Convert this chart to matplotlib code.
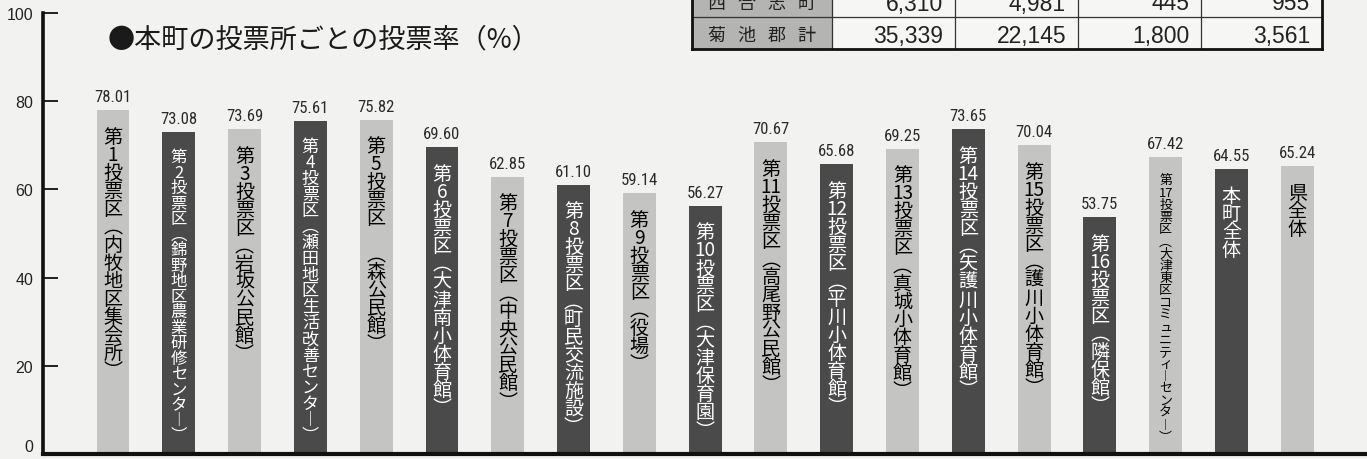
import matplotlib
matplotlib.use('Agg')
import matplotlib.pyplot as plt
from matplotlib.patches import Rectangle

###############################################################################
# data

names = ['第1投票区（内牧地区集会所）',
         '第2投票区（錦野地区農業研修センター）',
         '第3投票区（岩坂公民館）',
         '第4投票区（瀬田地区生活改善センター）',
         '第5投票区　（森公民館）',
         '第6投票区（大津南小体育館）',
         '第7投票区（中央公民館）',
         '第8投票区（町民交流施設）',
         '第9投票区（役場）',
         '第10投票区（大津保育園）',
         '第11投票区（高尾野公民館）',
         '第12投票区（平川小体育館）',
         '第13投票区（真城小体育館）',
         '第14投票区（矢護川小体育館）',
         '第15投票区（護川小体育館）',
         '第16投票区（隣保館）',
         '第17投票区（大津東区コミュニティーセンター）',
         '本町全体',
         '県全体']
rates = [78.01, 73.08, 73.69, 75.61, 75.82, 69.60, 62.85, 61.10, 59.14,
         56.27, 70.67, 65.68, 69.25, 73.65, 70.04, 53.75, 67.42, 64.55, 65.24]

title = '●本町の投票所ごとの投票率（%）'
yticks = [0, 20, 40, 60, 80, 100]

# partial table at the top of the page
table_rows = ['西合志町', '菊池郡計']
table_vals = [[6310, 4981, 445, 955],
              [35339, 22145, 1800, 3561]]

###############################################################################

JP = 'Noto Sans CJK JP'
NUM = ['Roboto Condensed', 'Liberation Sans', 'DejaVu Sans']
LIGHT, DARK = '#c4c4c2', '#4a4a4a'
BG = '#f2f2f0'

# vertical writing forms
VERT = {'（': '︵', '）': '︶', 'ー': '︱'}


def vertical_tokens(s):
    out = []
    for ch in s:
        if ch.isdigit() and out and out[-1].isdigit():
            out[-1] += ch
        else:
            out.append(VERT.get(ch, ch))
    return out


W, H = 1367, 460
fig = plt.figure(figsize=(W / 100, H / 100), dpi=100, facecolor=BG)
ax = fig.add_axes([43 / W, 5 / H, 1322 / W, 441 / H])
ax.set_facecolor('none')

x = list(range(len(rates)))
colors = [LIGHT if i % 2 == 0 else DARK for i in x]
ax.bar(x, rates, width=0.5, color=colors, zorder=2)

ax.set_xlim(-1.064, 19.03)
ax.set_ylim(0, 100)
ax.set_xticks([])
ax.set_yticks(yticks)
ax.tick_params(axis='y', direction='in', length=11, width=1.3, pad=7,
               labelsize=11.5, labelcolor='#222222', color='#111111')
for lab in ax.get_yticklabels():
    lab.set_family(['Liberation Sans', 'DejaVu Sans'])
ax.get_yticklabels()[0].set_verticalalignment('bottom')
for s in ['top', 'right']:
    ax.spines[s].set_visible(False)
ax.spines['left'].set_linewidth(2.6)
ax.spines['bottom'].set_linewidth(3.0)
ax.spines['left'].set_color('#111111')
ax.spines['bottom'].set_color('#111111')

px_per_unit = (ax.transData.transform((0, 100))[1]
               - ax.transData.transform((0, 0))[1]) / 100.0

for i, (name, r) in enumerate(zip(names, rates)):
    # value above the bar
    ax.annotate('%.2f' % r, (i, r), xytext=(0, 6.5),
                textcoords='offset points', ha='center', va='baseline',
                fontsize=12, family=NUM, color='#2a2a2a')
    # vertical label inside the bar, stacked one glyph at a time
    toks = vertical_tokens(name)
    top_gap = 16
    avail = r * px_per_unit - top_gap - 12
    step = min(18.0, avail / len(toks))
    fs = step * 1.06
    tcol = 'black' if i % 2 == 0 else 'white'
    for k, t in enumerate(toks):
        base = top_gap + k * step + 0.82 * fs
        ax.annotate(t, (i, r), xytext=(0, -base * 0.72),
                    textcoords='offset points', ha='center', va='baseline',
                    fontsize=fs * 0.72, family=[JP, 'DejaVu Sans'],
                    color=tcol, zorder=3)

fig.text(108 / W, 1 - 40 / H, title, ha='left', va='center',
         fontsize=19.5, family=[JP, 'DejaVu Sans'], color='#1a1a1a')

###############################################################################
# table fragment

tab = fig.add_axes([0, 0, 1, 1])
tab.set_xlim(0, W)
tab.set_ylim(H, 0)
tab.axis('off')
tab.patch.set_visible(False)

col_edges = [692, 832, 955, 1078, 1201, 1322]
row_edges = [-14, 18, 50]
for ri, (lab, vals) in enumerate(zip(table_rows, table_vals)):
    y0, y1 = row_edges[ri], row_edges[ri + 1]
    yc = (y0 + y1) / 2 + 2
    tab.add_patch(Rectangle((col_edges[0], y0), col_edges[1] - col_edges[0],
                            y1 - y0, facecolor='#b4b4b2', edgecolor='none'))
    tab.add_patch(Rectangle((col_edges[1], y0), col_edges[-1] - col_edges[1],
                            y1 - y0, facecolor='#f6f6f4', edgecolor='none'))
    tab.text((col_edges[0] + col_edges[1]) / 2, yc, '   '.join(lab),
             ha='center', va='center', fontsize=13, family=JP,
             color='#222222')
    for ci, v in enumerate(vals):
        tab.text(col_edges[ci + 2] - 12, yc, '{:,}'.format(v), ha='right',
                 va='center', fontsize=16.5,
                 family=['Liberation Sans', 'DejaVu Sans'], color='#222222')

for xe in col_edges[1:-1]:
    tab.plot([xe, xe], [row_edges[0], row_edges[-1]], color='#333333', lw=0.9)
for ye in row_edges[1:-1]:
    tab.plot([col_edges[0], col_edges[-1]], [ye, ye], color='#333333', lw=0.9)
tab.plot([col_edges[0], col_edges[-1]], [row_edges[-1]] * 2,
         color='#111111', lw=2.0)
for xe in [col_edges[0], col_edges[-1]]:
    tab.plot([xe, xe], [row_edges[0], row_edges[-1]], color='#111111', lw=2.0)

fig.savefig('out.png', dpi=100, facecolor=BG)
